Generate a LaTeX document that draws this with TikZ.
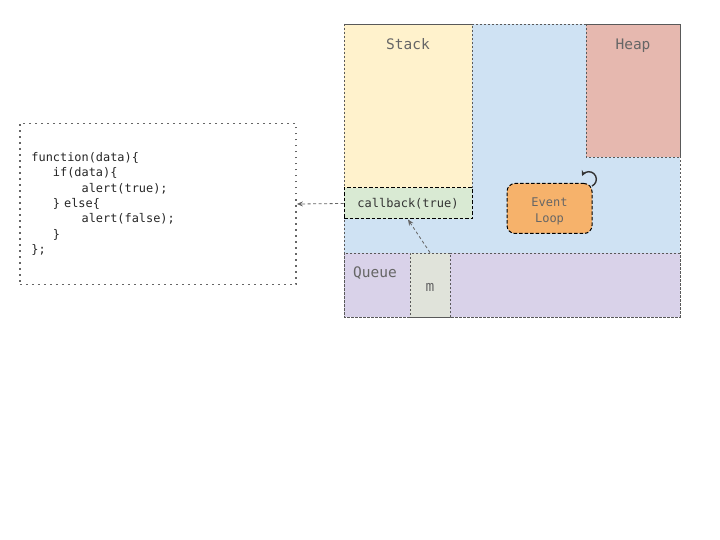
\documentclass[tikz,border=0pt]{standalone}
\usepackage{fontspec}
\setmonofont{DejaVu Sans Mono}
\usetikzlibrary{arrows.meta}

\definecolor{rtblue}{HTML}{CFE2F3}
\definecolor{stackyellow}{HTML}{FFF2CC}
\definecolor{heapred}{HTML}{E6B8AF}
\definecolor{cbgreen}{HTML}{D9EAD3}
\definecolor{looporange}{HTML}{F6B26B}
\definecolor{queuepurple}{HTML}{D9D2E9}
\definecolor{msggrey}{HTML}{E0E3DA}
\definecolor{lblgrey}{HTML}{666666}

\tikzset{
  area/.style={draw=black!65, line width=0.8bp, dash pattern=on 2bp off 2bp},
  lbl/.style={text=lblgrey, font=\ttfamily\fontsize{14.5bp}{16bp}\selectfont, inner sep=0pt, anchor=base},
  busy/.style={draw=black, line width=1bp, dash pattern=on 3.5bp off 2bp, inner sep=0pt},
  link/.style={draw=black!60, line width=0.8bp, dash pattern=on 3bp off 2.5bp,
    -{Stealth[length=6bp,width=5bp]}}
}

\begin{document}
\begin{tikzpicture}[x=1bp,y=-1bp]
  \useasboundingbox (0,0) rectangle (720,540);

  % runtime areas
  \fill[rtblue] (344,24) rectangle (680,317);
  \filldraw[area, fill=stackyellow] (344,24) rectangle (472,188);
  \filldraw[area, fill=heapred] (586,24) rectangle (680,157);
  \filldraw[area, fill=queuepurple] (344,253) rectangle (680,317);
  \draw[area] (344,24) rectangle (680,317);

  \node[lbl] (stacklbl) at (408,49.5) {Stack};
  \node[lbl] (heaplbl) at (633,49.5) {Heap};
  \node[lbl] (queuelbl) at (375,278) {Queue};

  \node[area, fill=msggrey, minimum width=40bp, minimum height=64bp, inner sep=0pt] (msg) at (430,285) {};
  \node[lbl] (msglbl) at (430,291.5) {m};

  \node[busy, fill=cbgreen, minimum width=128bp, minimum height=31bp,
        font=\ttfamily\fontsize{12bp}{14bp}\selectfont, text=black!80] (callback) at (408,203.5) {callback(true)};

  \node[busy, fill=looporange, rounded corners=8bp, minimum width=85bp, minimum height=50bp] (evl) at (549.5,208.5) {};
  \node[text=lblgrey, font=\ttfamily\fontsize{12bp}{16bp}\selectfont, inner sep=0pt, anchor=base] (evltxt) at (549.5,206.5) {Event};
  \node[text=lblgrey, font=\ttfamily\fontsize{12bp}{16bp}\selectfont, inner sep=0pt, anchor=base] (evltxt2) at (549.5,222.5) {Loop};
  \draw[black!80, line width=1.4bp, -{Stealth[length=5.5bp,width=5.5bp]}] (evl.north east)
    ++(-0.5,3) arc[start angle=65, end angle=-155, radius=7.5];

  % code of the callback
  \node[draw=black!60, line width=1.8bp, dash pattern=on 1.8bp off 4.2bp,
        minimum width=276bp, minimum height=161bp, inner xsep=11.5bp, text width=253bp, align=left,
        font=\ttfamily\fontsize{11.9bp}{15.4bp}\selectfont, text=black!85] (code) at (158,204) {%
    function(data)\{\\
    \phantom{xxx}if(data)\{\\
    \phantom{xxxxxxx}alert(true);\\
    \phantom{xxx}\}\ else\{\\
    \phantom{xxxxxxx}alert(false);\\
    \phantom{xxx}\}\\
    \};\\[2bp]};

  \draw[link] (callback.west) -- (code.east);
  \draw[link] (msg.north) -- (callback.south);
\end{tikzpicture}
\end{document}
